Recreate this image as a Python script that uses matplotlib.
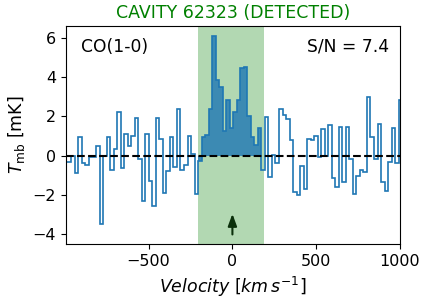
import numpy as np
import matplotlib.pyplot as plt

# channel grid (km/s) and spectrum (mK)
chan_width = 21.0
first_center = -992.5
spectrum = [
    -0.32, -0.32, -0.03, -0.88, 0.95, -0.39, -0.47, -0.07, -0.07, 0.49,
    -3.47, 0.00, 0.95, -0.71, 0.34, 2.22, -0.63, 1.10, 0.49, 1.00,
    1.91, -0.15, -2.30, 1.10, -1.29, -2.57, 1.91, 0.85, -1.89, -0.76,
    0.95, -0.57, 2.37, -0.71, -0.47, 1.00, 0.09, -1.94, -0.25, 0.96,
    1.07, 2.37, 6.09, 3.86, 3.52, 1.27, 2.84, 1.40, 2.23, 2.84,
    4.45, 4.52, 2.00, 0.96, 0.56, 1.40, -0.71, 1.96, -1.08, 0.05,
    -0.37, 2.37, 2.08, 1.86, 0.80, -1.86, -1.98, -0.54, -1.70, 0.88,
    0.81, 1.02, -0.05, 1.35, 0.00, 1.56, -1.13, -1.59, 1.46, -1.32,
    1.46, -0.16, -1.94, -1.02, -0.72, -0.82, 2.98, 0.95, -0.16, 1.62,
    -1.32, -1.78, -0.30, 1.40, -0.35, 2.84,
]
line_window = (-205, 189)
fill_channels = (38, 56)  # channels shaded as line emission
snr = 7.4
title = 'CAVITY 62323 (DETECTED)'
line_name = 'CO(1-0)'

spec = np.array(spectrum)
edges = first_center - chan_width / 2 + chan_width * np.arange(len(spec) + 1)

fig = plt.figure(figsize=(4.28, 3.04), dpi=100)
ax = fig.add_axes([0.1535, 0.1964, 0.781, 0.718])

ax.axvspan(*line_window, color='green', alpha=0.3, lw=0, zorder=0)
i0, i1 = fill_channels
ax.stairs(spec[i0:i1], edges[i0:i1 + 1], fill=True, color='C0', alpha=0.8, zorder=1)
ax.stairs(spec, edges, color='C0', lw=1.2, zorder=2)
ax.axhline(0, color='k', ls='--', lw=1.5, zorder=3)

ax.annotate('', xy=(0, -2.95), xytext=(0, -4.0),
            arrowprops=dict(arrowstyle='-|>,head_width=0.22,head_length=0.6',
                            color='#0b300b', lw=1.5, mutation_scale=12, shrinkA=0, shrinkB=0))

ax.text(0.046, 0.905, line_name, transform=ax.transAxes, fontsize=12.3, va='center', ha='left')
ax.text(0.968, 0.905, f'S/N = {snr}', transform=ax.transAxes, fontsize=12.3, va='center', ha='right')

ax.set_xlim(-995, 1000)
ax.set_ylim(-4.5, 6.6)
ax.set_xticks([-500, 0, 500, 1000])
ax.set_yticks([-4, -2, 0, 2, 4, 6])
ax.tick_params(labelsize=11.5)
ax.set_title(title, color='green', fontsize=12.5)
ax.set_xlabel(r'$Velocity\ [km\,s^{-1}]$', fontsize=12.5)
ax.set_ylabel(r'$T_{\rm mb}$ [mK]', fontsize=12.5)

fig.savefig('out.png', dpi=100)
